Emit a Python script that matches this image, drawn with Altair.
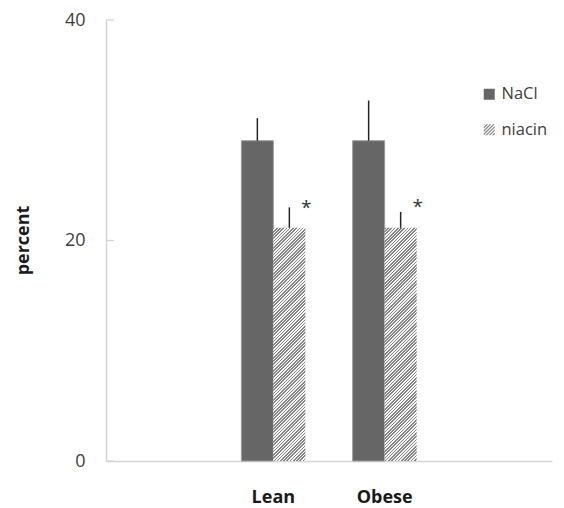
import altair as alt
import pandas as pd

# ---- data ----
groups = ["Lean", "Lean", "Obese", "Obese"]
series = ["NaCl", "niacin", "NaCl", "niacin"]
values = [29.05, 21.15, 29.05, 21.15]
err_top = [31.1, 23.0, 32.7, 22.6]
sig_group = ["Lean", "Obese"]
sig_series = ["niacin", "niacin"]
sig_y = [23.3, 23.4]
sig_text = ["*", "*"]
x_domain = ["_pre", "Lean", "Obese", "_post"]
series_order = ["NaCl", "niacin"]
y_ticks = [0, 20, 40]

df = pd.DataFrame({"group": groups, "series": series, "value": values, "err": err_top})
sig_df = pd.DataFrame({"group": sig_group, "series": sig_series, "value": sig_y, "txt": sig_text})
tick_df = pd.DataFrame({"value": y_ticks})

# ---- layout ----
W, H = 446, 441
P_IN, P_OUT = 0.425, 0.216
FONT = "Open Sans"
DARK = "#666666"
HATCH_DARK = "#858585"
HATCH_LIGHT = "#f6f6f6"

# hatch gradient for niacin bars ("///" stripes)
step = W / (len(x_domain) - P_IN + 2 * P_OUT)
bar_w = step * (1 - P_IN) / 2
bar_h = values[1] * H / 40.0
ih, iw = 1.0 / bar_h, 1.0 / bar_w
t = (ih + iw) / (ih * ih + iw * iw)
gx2, gy2 = t * ih, t * iw
perp = (bar_w + bar_h) / 2 ** 0.5
period = 2.3
n = int(round(perp / period))
stops = []
for i in range(n):
    a, m, b = i / n, (i + 0.5) / n, (i + 1) / n
    stops += [
        {"offset": a, "color": HATCH_DARK},
        {"offset": m, "color": HATCH_DARK},
        {"offset": m, "color": HATCH_LIGHT},
        {"offset": b, "color": HATCH_LIGHT},
    ]
hatch_fill = {"gradient": "linear", "x1": 0, "y1": 0, "x2": gx2, "y2": gy2, "stops": stops}


# hatched legend symbol path (unit square -1..1)
def clip(poly, a, b, c):
    out = []
    k = len(poly)
    for i in range(k):
        p, q = poly[i], poly[(i + 1) % k]
        fp = a * p[0] + b * p[1] - c
        fq = a * q[0] + b * q[1] - c
        if fp <= 0:
            out.append(p)
        if (fp < 0 < fq) or (fq < 0 < fp):
            s = fp / (fp - fq)
            out.append((p[0] + s * (q[0] - p[0]), p[1] + s * (q[1] - p[1])))
    return out


sq = [(-1, -1), (1, -1), (1, 1), (-1, 1)]
sym_period, sym_w = 0.6, 0.3
parts = []
c0 = -2.1
while c0 < 2.0:
    poly = clip(sq, -1, -1, -c0)
    poly = clip(poly, 1, 1, c0 + sym_w)
    if len(poly) >= 3:
        parts.append("M" + " L".join(f"{x:.3f},{y:.3f}" for x, y in poly) + " Z")
    c0 += sym_period
hatch_path = " ".join(parts)

x_enc = alt.X(
    "group:N",
    scale=alt.Scale(domain=x_domain, paddingInner=P_IN, paddingOuter=P_OUT),
    axis=alt.Axis(
        title=None,
        labelExpr="datum.value == 'Lean' || datum.value == 'Obese' ? datum.value : ''",
        labelFont=FONT,
        labelFontWeight="bold",
        labelFontSize=18,
        labelColor="#1a1a1a",
        labelPadding=27,
        labelAngle=0,
        ticks=False,
        tickSize=0,
        domainColor="#d4d4d4",
        domainWidth=1.5,
    ),
)
xo_enc = alt.XOffset("series:N", scale=alt.Scale(domain=series_order, paddingInner=0, paddingOuter=0))
y_scale = alt.Scale(domain=[0, 40], nice=False, zero=True)
y_main = alt.Y(
    "value:Q",
    scale=y_scale,
    axis=alt.Axis(
        values=y_ticks,
        title="percent",
        titleFont=FONT,
        titleFontSize=18,
        titleFontWeight="bold",
        titleColor="#1a1a1a",
        titleX=-78,
        titleY=220,
        titleAngle=270,
        titleAlign="center",
        titleBaseline="alphabetic",
        labelFont=FONT,
        labelFontSize=18,
        labelColor="#404040",
        labelPadding=21,
        ticks=False,
        tickSize=0,
        grid=False,
        domainColor="#d4d4d4",
        domainWidth=1.5,
    ),
)
y_plain = alt.Y("value:Q", scale=y_scale)

bars_nacl = (
    alt.Chart(df)
    .transform_filter("datum.series == 'NaCl'")
    .mark_bar(fill=DARK, stroke="#9c9c9c", strokeWidth=1)
    .encode(x=x_enc, xOffset=xo_enc, y=y_main)
)
bars_niacin = (
    alt.Chart(df)
    .transform_filter("datum.series == 'niacin'")
    .mark_bar(fill=hatch_fill, strokeWidth=0)
    .encode(x=x_enc, xOffset=xo_enc, y=y_plain)
)
errs = (
    alt.Chart(df)
    .mark_rule(color="#262626", strokeWidth=1.5)
    .encode(x=x_enc, xOffset=xo_enc, y=y_plain, y2="err:Q")
)
stars = (
    alt.Chart(sig_df)
    .mark_text(font=FONT, fontSize=19, color="#333333", dx=17, dy=10, baseline="alphabetic")
    .encode(x=x_enc, xOffset=xo_enc, y=y_plain, text="txt:N")
)
ticks = (
    alt.Chart(tick_df)
    .mark_rule(color="#d4d4d4", strokeWidth=1.3)
    .encode(y=y_plain, x=alt.value(0), x2=alt.value(8))
)
leg = alt.Legend(
    title=None,
    orient="none",
    legendX=375,
    legendY=66,
    labelFont=FONT,
    labelFontSize=16.5,
    labelColor="#404040",
    labelOffset=4,
    symbolSize=121,
    symbolStrokeWidth=0,
    rowPadding=18.5,
    padding=0,
)
legend_pts = (
    alt.Chart(df)
    .mark_point(filled=True, size=0, opacity=1, strokeWidth=0)
    .encode(
        x=x_enc,
        xOffset=xo_enc,
        y=y_plain,
        color=alt.Color("series:N", scale=alt.Scale(domain=series_order, range=[DARK, HATCH_DARK]), legend=leg),
        shape=alt.Shape("series:N", scale=alt.Scale(domain=series_order, range=["square", hatch_path]), legend=leg),
    )
)

chart = (
    alt.layer(bars_nacl, bars_niacin, errs, stars, ticks, legend_pts)
    .properties(
        width=W,
        height=H,
        autosize=alt.AutoSizeParams(type="none"),
        padding={"left": 98, "top": 12, "right": 2, "bottom": 46},
        background="white",
    )
    .configure_view(stroke=None)
)

chart.save("out.html", embed_options={"renderer": "svg", "actions": False})
